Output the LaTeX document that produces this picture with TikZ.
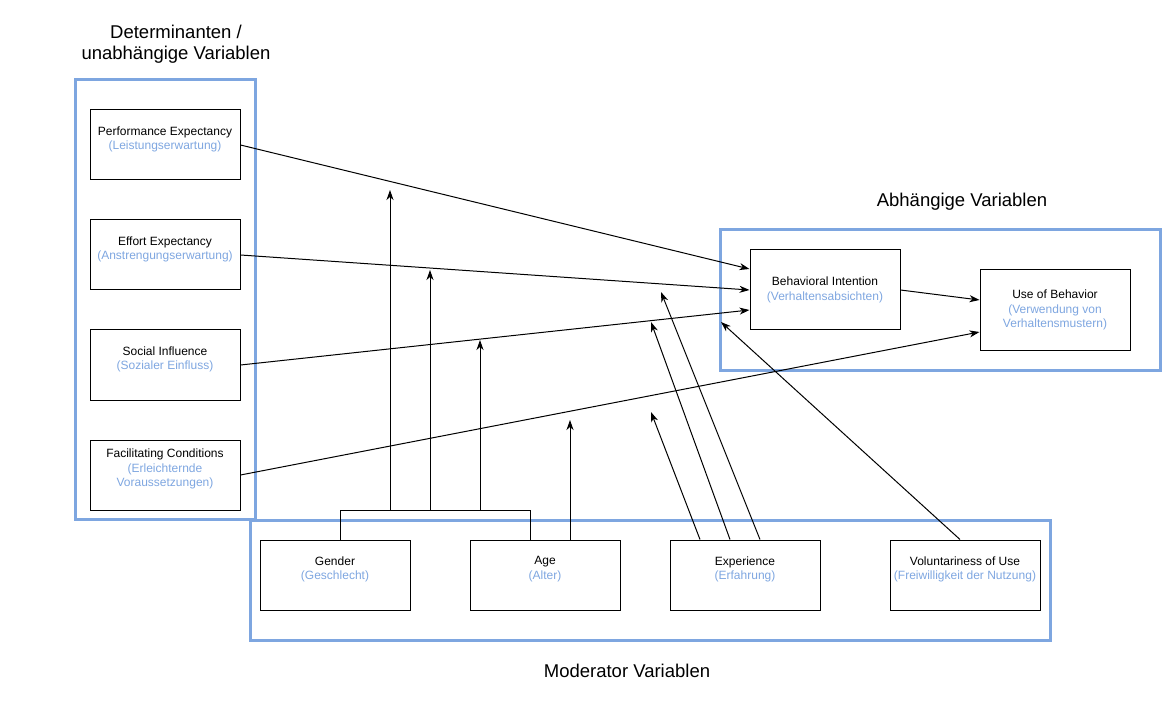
\documentclass[tikz,border=0pt]{standalone}
\usepackage{fontspec}
\setmainfont{Liberation Sans}
\usetikzlibrary{arrows.meta,calc}
\definecolor{drawblue}{HTML}{7EA6E0}
\newcommand{\subtxt}[1]{\textcolor{drawblue}{#1}}

\begin{document}
\begin{tikzpicture}[x=1pt, y=-1pt,
  every node/.style = {align=center, inner sep=0pt},
  varbox/.style = {draw, line width=1pt, minimum width=150pt, minimum height=70pt,
    font=\fontsize{12}{14.3}\selectfont},
  groupbox/.style = {draw=drawblue, line width=3pt},
  heading/.style = {font=\fontsize{18.5}{21}\selectfont},
  arr/.style = {line width=1pt, -{Stealth[length=10pt, width=7pt, inset=3pt]}}]
  \useasboundingbox (0,0) rectangle (1162,711);
  \node[groupbox, minimum width=180pt, minimum height=439pt] (det) at (165,299.5) {};
  \node[groupbox, minimum width=440pt, minimum height=140pt] (dep) at (940,300) {};
  \node[groupbox, minimum width=800pt, minimum height=120pt] (mod) at (650,580) {};
  \node[heading] (dettitle) at (176,44) {Determinanten /\\unabhängige Variablen};
  \node[heading] (deptitle) at (962,202) {Abhängige Variablen};
  \node[heading] (modtitle) at (627,671) {Moderator Variablen};
  \node[varbox] (pe) at (165,145) {Performance Expectancy\\\subtxt{(Leistungserwartung)}\\\mbox{}};
  \node[varbox] (ee) at (165,255) {Effort Expectancy\\\subtxt{(Anstrengungserwartung)}\\\mbox{}};
  \node[varbox] (si) at (165,365) {Social Influence\\\subtxt{(Sozialer Einfluss)}\\\mbox{}};
  \node[varbox] (fc) at (165,475) {Facilitating Conditions\\\subtxt{(Erleichternde}\\\subtxt{Voraussetzungen)}\\\mbox{}};
  \node[varbox, minimum height=80pt] (bi) at (825,290) {Behavioral Intention\\\subtxt{(Verhaltensabsichten)}};
  \node[varbox, minimum height=80pt] (ub) at (1055,310) {Use of Behavior\\\subtxt{(Verwendung von}\\\subtxt{Verhaltensmustern)}};
  \node[varbox] (gen) at (335,575) {Gender\\\subtxt{(Geschlecht)}\\\mbox{}};
  \node[varbox] (age) at (545,575) {Age\\\subtxt{(Alter)}\\\mbox{}};
  \node[varbox] (exp) at (745,575) {Experience\\\subtxt{(Erfahrung)}\\\mbox{}};
  \node[varbox] (vol) at (965,575) {Voluntariness of Use\\\subtxt{(Freiwilligkeit der Nutzung)}\\\mbox{}};
  \coordinate (brl) at (340,510);
  \coordinate (brr) at (530,510);
  \coordinate (m1) at (390,190);
  \coordinate (m2) at (430,270);
  \coordinate (m3) at (480,340);
  \coordinate (m4) at (570,420);
  \coordinate (e1) at (651,412);
  \coordinate (e2) at (651,322);
  \coordinate (e3) at (661,292);
  \coordinate (v1) at (721,322);
  \draw[arr] (pe.east) -- ($(bi.west)+(0,-21)$);
  \draw[arr] (ee.east) -- (bi.west);
  \draw[arr] (si.east) -- ($(bi.west)+(0,20)$);
  \draw[arr] (fc.east) -- ($(ub.west)+(0,22)$);
  \draw[arr] (bi.east) -- ($(ub.west)+(0,-10)$);
  \draw[line width=1pt] (gen.north -| brl) -- (brl) -- (brr) -- (age.north -| brr);
  \foreach \m in {m1,m2,m3}
    \draw[arr] (\m |- brl) -- (\m);
  \draw[arr] (age.north -| m4) -- (m4);
  \draw[arr] ($(exp.north)+(-45,0)$) -- (e1);
  \draw[arr] ($(exp.north)+(-15,0)$) -- (e2);
  \draw[arr] ($(exp.north)+(15,0)$) -- (e3);
  \draw[arr] ($(vol.north)+(-5,0)$) -- (v1);
\end{tikzpicture}
\end{document}
